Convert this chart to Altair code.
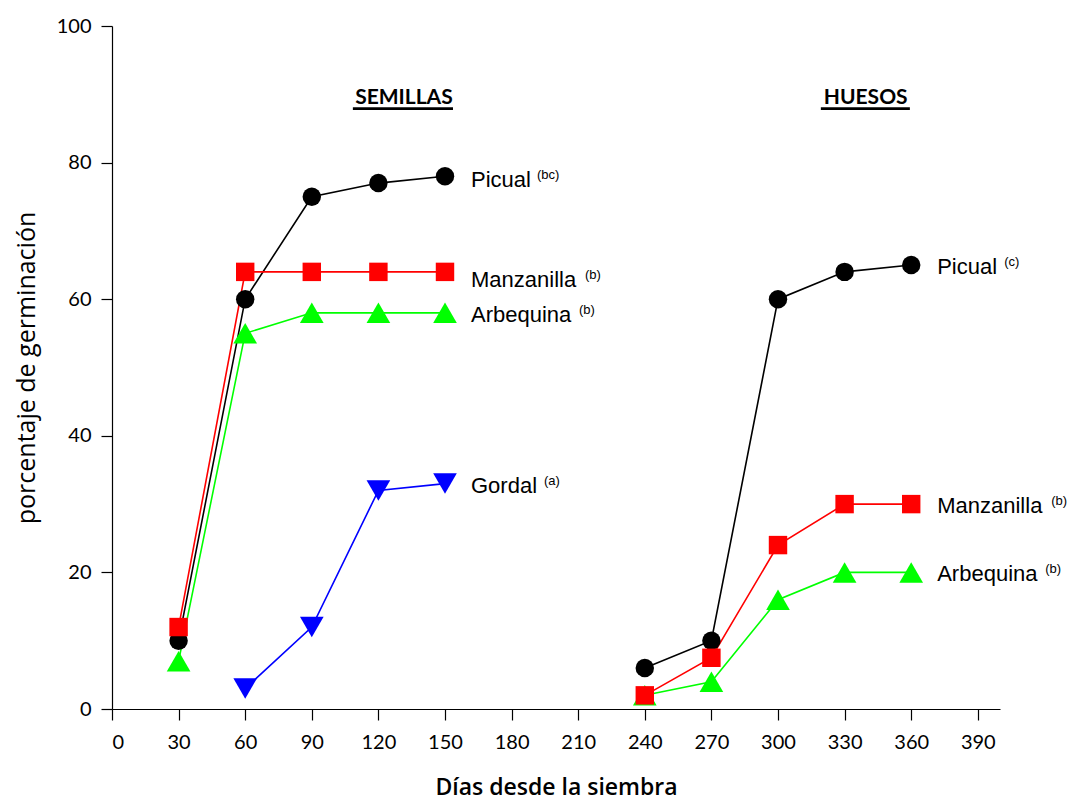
import altair as alt
import pandas as pd

# Days after sowing for each stage
days_semillas = [30, 60, 90, 120, 150]
days_gordal = [60, 90, 120, 150]
days_huesos = [240, 270, 300, 330, 360]

# Germination percentage, seeds ("semillas")
semillas_picual = [10, 60, 75, 77, 78]
semillas_manzanilla = [12, 64, 64, 64, 64]
semillas_arbequina = [7, 55, 58, 58, 58]
semillas_gordal = [3, 12, 32, 33]

# Germination percentage, stones ("huesos")
huesos_picual = [6, 10, 60, 64, 65]
huesos_manzanilla = [2, 7.5, 24, 30, 30]
huesos_arbequina = [2, 4, 16, 20, 20]

# Series end labels and their significance letters
label_names = ["Picual", "Manzanilla", "Arbequina", "Gordal",
               "Picual", "Manzanilla", "Arbequina"]
label_letters = ["(bc)", "(b)", "(b)", "(a)", "(c)", "(b)", "(b)"]

section_titles = ["SEMILLAS", "HUESOS"]

varieties = ["Picual", "Manzanilla", "Arbequina", "Gordal"]
colors = ["#000000", "#ff0000", "#00ff00", "#0000ff"]
shapes = ["circle", "square", "triangle-up", "triangle-down"]

PX_PER_DAY = 888 / 400.0
PX_PER_PCT = 683 / 100.0

rows = []
def add(section, variety, days, values):
    for d, v in zip(days, values):
        rows.append({"seccion": section, "variedad": variety, "dias": d,
                     "pct": v, "grupo": f"{section}-{variety}"})

add("semillas", "Picual", days_semillas, semillas_picual)
add("semillas", "Manzanilla", days_semillas, semillas_manzanilla)
add("semillas", "Arbequina", days_semillas, semillas_arbequina)
add("semillas", "Gordal", days_gordal, semillas_gordal)
add("huesos", "Picual", days_huesos, huesos_picual)
add("huesos", "Manzanilla", days_huesos, huesos_manzanilla)
add("huesos", "Arbequina", days_huesos, huesos_arbequina)
df = pd.DataFrame(rows)

# Label anchor: last point of each series, text a little to the right
last = df.groupby("grupo", sort=False).last().reset_index()
label_groups = ["semillas-Picual", "semillas-Manzanilla", "semillas-Arbequina",
                "semillas-Gordal", "huesos-Picual", "huesos-Manzanilla",
                "huesos-Arbequina"]
name_widths = [66, 114, 108, 73, 67, 114, 108]  # name width incl. space, px
shift_px = [2, 6, 0, 0, 0, 0, 0]                # small vertical nudges, px
lab = pd.DataFrame({"grupo": label_groups, "nombre": label_names,
                    "letras": label_letters, "ancho": name_widths,
                    "nudge": shift_px})
lab = lab.merge(last[["grupo", "dias", "pct"]], on="grupo")
lab["x_nombre"] = lab["dias"] + 26 / PX_PER_DAY
lab["x_letras"] = lab["x_nombre"] + lab["ancho"] / PX_PER_DAY
lab["y"] = lab["pct"] - lab["nudge"] / PX_PER_PCT

x_scale = alt.Scale(domain=[0, 400], nice=False)
y_scale = alt.Scale(domain=[0, 100], nice=False)
color_scale = alt.Scale(domain=varieties, range=colors)
shape_scale = alt.Scale(domain=varieties, range=shapes)

base = alt.Chart(df)

lines = base.mark_line(strokeWidth=1.6).encode(
    x=alt.X("dias:Q", scale=x_scale,
            axis=alt.Axis(values=list(range(0, 391, 30)), title="Días desde la siembra")),
    y=alt.Y("pct:Q", scale=y_scale,
            axis=alt.Axis(values=list(range(0, 101, 20)), title="porcentaje de germinación")),
    color=alt.Color("variedad:N", scale=color_scale, legend=None),
    detail="grupo:N",
)

def markers(varieties_subset, size):
    return base.transform_filter(
        alt.FieldOneOfPredicate(field="variedad", oneOf=varieties_subset)
    ).mark_point(filled=True, opacity=1, size=size).encode(
        x="dias:Q",
        y="pct:Q",
        color=alt.Color("variedad:N", scale=color_scale, legend=None),
        shape=alt.Shape("variedad:N", scale=shape_scale, legend=None),
    )

round_square = markers(["Picual", "Manzanilla"], 340)
triangles = markers(["Arbequina", "Gordal"], 560)

names = alt.Chart(lab).mark_text(
    align="left", baseline="alphabetic", dy=9, font="Liberation Sans", fontSize=22,
    color="black",
).encode(x="x_nombre:Q", y="y:Q", text="nombre:N")

letters = alt.Chart(lab).mark_text(
    align="left", baseline="alphabetic", dy=1, font="Liberation Sans", fontSize=13,
    color="black",
).encode(x="x_letras:Q", y="y:Q", text="letras:N")

# Section headings with underline
head_df = pd.DataFrame({
    "titulo": section_titles,
    "x": [131.5, 339.5],
    "y": [88.6, 88.6],
    "x1": [108.5, 319.3],
    "x2": [153.6, 359.4],
    "yl": [87.9, 87.9],
})
heads = alt.Chart(head_df).mark_text(
    align="center", baseline="alphabetic", font="Lato", fontSize=21,
    fontWeight="bold", color="black",
).encode(x="x:Q", y="y:Q", text="titulo:N")
underline = alt.Chart(head_df).mark_rule(strokeWidth=2.6, color="black").encode(
    x="x1:Q", x2="x2:Q", y="yl:Q"
)

chart = alt.layer(lines, triangles, round_square, names, letters, heads, underline).properties(
    width=888, height=683,
    autosize=alt.AutoSizeParams(type="none"),
    padding={"left": 112, "top": 26, "right": 69, "bottom": 92},
).configure_view(stroke=None).configure_axis(
    grid=False,
    domainColor="black",
    domainWidth=1.2,
    tickColor="black",
    tickWidth=1.2,
    tickSize=11,
    labelFont="Lato",
    labelFontSize=20,
    labelColor="black",
    titleColor="black",
).configure_axisX(
    labelPadding=12,
    titleFont="Open Sans",
    titleFontSize=23,
    titleFontWeight=600,
    titlePadding=24,
).configure_axisY(
    labelPadding=10,
    titleFont="Open Sans",
    titleFontSize=25,
    titleFontWeight="normal",
    titlePadding=17,
)

chart.save("out.html", embed_options={"renderer": "svg", "actions": False})
